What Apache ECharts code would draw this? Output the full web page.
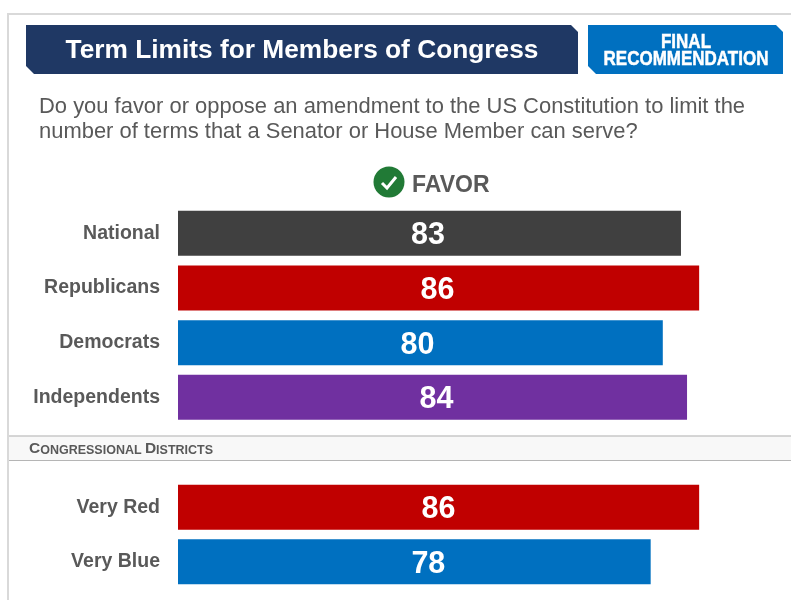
<!DOCTYPE html>
<html>
<head>
<meta charset="utf-8">
<style>html,body{margin:0;padding:0;background:#fff}#chart{width:791px;height:600px}</style>
<script src="https://cdn.jsdelivr.net/npm/echarts@6/dist/echarts.min.js"></script>
</head>
<body>
<div id="chart"></div>
<script>
// Share of respondents who favor the amendment, by party and by district lean
const partyGroups = ['National', 'Republicans', 'Democrats', 'Independents'];
const partyFavor = [83, 86, 80, 84];
const partyColors = ['#404040', '#c00000', '#0070c0', '#7030a0'];

const districtGroups = ['Very Red', 'Very Blue'];
const districtFavor = [86, 78];
const districtColors = ['#c00000', '#0070c0'];

// Hand placement of the value labels relative to each bar's centre
const partyLabelShift = [-1.5, -1, -3, 4];
const districtLabelShift = [0, 14];

const FONT = '"Liberation Sans", Arial, sans-serif';
const GREY = '#595959';

const chart = echarts.init(document.getElementById('chart'), null, { renderer: 'canvas' });

function barSeries(index, values, colors, shifts) {
  return {
    type: 'bar',
    xAxisIndex: index,
    yAxisIndex: index,
    barWidth: 45,
    silent: true,
    animation: false,
    data: values.map((v, i) => ({
      value: v,
      itemStyle: { color: colors[i] },
      label: { offset: [shifts[i], 2.5] }
    })),
    label: {
      show: true,
      position: 'inside',
      color: '#fff',
      fontFamily: FONT,
      fontWeight: 'bold',
      fontSize: 30.5
    }
  };
}

function valueAxis(index) {
  return { type: 'value', gridIndex: index, min: 0, max: 100, show: false };
}

function groupAxis(index, names) {
  return {
    type: 'category',
    gridIndex: index,
    data: names,
    inverse: true,
    axisLine: { show: false },
    axisTick: { show: false },
    axisLabel: {
      margin: 18,
      padding: [2, 0, 0, 0],
      color: GREY,
      fontFamily: FONT,
      fontWeight: 'bold',
      fontSize: 19.5
    }
  };
}

function headerText(x, y, text, style, extra) {
  return Object.assign({
    type: 'text', x, y, silent: true,
    style: Object.assign({ text, fontFamily: FONT, verticalAlign: 'middle', align: 'left' }, style)
  }, extra || {});
}

const badgeStyle = { fill: '#fff', fontSize: 20, fontWeight: 'bold', align: 'center', stroke: '#fff', lineWidth: 0.5 };

chart.setOption({
  animation: false,
  backgroundColor: '#fff',
  grid: [
    { left: 178, top: 206, width: 606, height: 218.7 },
    { left: 178, top: 480, width: 606, height: 109 }
  ],
  xAxis: [valueAxis(0), valueAxis(1)],
  yAxis: [groupAxis(0, partyGroups), groupAxis(1, districtGroups)],
  series: [
    barSeries(0, partyFavor, partyColors, partyLabelShift),
    barSeries(1, districtFavor, districtColors, districtLabelShift)
  ],
  graphic: [
    // Outer frame, open on the right and bottom
    { type: 'polyline', silent: true, shape: { points: [[8, 600], [8, 14], [791, 14]] },
      style: { stroke: '#d9d9d9', lineWidth: 2, fill: null } },

    // Title banner with clipped corners
    { type: 'polygon', silent: true,
      shape: { points: [[26, 25], [571, 25], [578, 32], [578, 74], [34, 74], [26, 66]] },
      style: { fill: '#1f3864' } },
    headerText(302, 51, 'Term Limits for Members of Congress',
      { fill: '#fff', fontSize: 26.3, fontWeight: 'bold', align: 'center' }),

    // Status badge, with its lettering condensed horizontally
    { type: 'polygon', silent: true,
      shape: { points: [[588, 25], [776, 25], [783, 32], [783, 74], [596, 74], [588, 66]] },
      style: { fill: '#0070c0' } },
    headerText(686, 42.5, 'FINAL', badgeStyle, { scaleX: 0.85 }),
    headerText(686, 59.5, 'RECOMMENDATION', badgeStyle, { scaleX: 0.85 }),

    // Question wording
    headerText(39, 107, 'Do you favor or oppose an amendment to the US Constitution to limit the',
      { fill: GREY, fontSize: 21.95 }),
    headerText(39, 132, 'number of terms that a Senator or House Member can serve?',
      { fill: GREY, fontSize: 21.95 }),

    // Column heading with check badge
    { type: 'circle', silent: true, shape: { cx: 389, cy: 182, r: 15.5 }, style: { fill: '#217a36' } },
    { type: 'polyline', silent: true, shape: { points: [[382, 183], [387, 188], [396, 177]] },
      style: { stroke: '#fff', lineWidth: 3, fill: null } },
    headerText(412, 186, 'FAVOR', { fill: GREY, fontSize: 23, fontWeight: 'bold' }),

    // Section divider
    { type: 'rect', silent: true, shape: { x: 9, y: 436, width: 782, height: 24 },
      style: { fill: '#f8f8f8' } },
    { type: 'line', silent: true, shape: { x1: 9, y1: 436, x2: 791, y2: 436 },
      style: { stroke: '#c8c8c8', lineWidth: 1.5 } },
    { type: 'line', silent: true, shape: { x1: 9, y1: 460.5, x2: 791, y2: 460.5 },
      style: { stroke: '#b5b5b5', lineWidth: 1 } },
    {
      type: 'text', x: 29, y: 449, silent: true,
      style: {
        text: '{cap|C}{low|ONGRESSIONAL} {cap|D}{low|ISTRICTS}',
        verticalAlign: 'middle',
        rich: {
          cap: { fontFamily: FONT, fontWeight: 'bold', fontSize: 15.5, fill: GREY, verticalAlign: 'bottom' },
          low: { fontFamily: FONT, fontWeight: 'bold', fontSize: 12.5, fill: GREY, verticalAlign: 'bottom' }
        }
      }
    }
  ]
});
</script>
</body>
</html>
